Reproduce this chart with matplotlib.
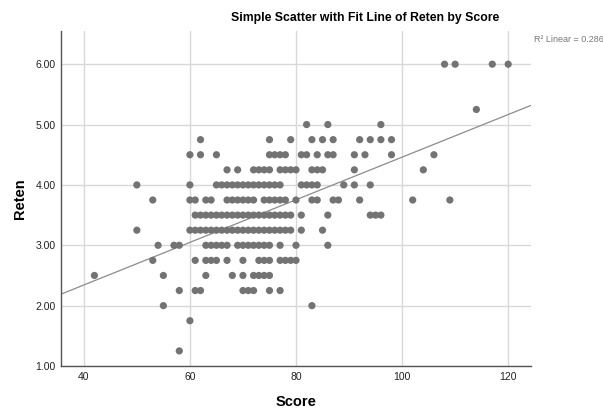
import numpy as np
import matplotlib
matplotlib.use('Agg')
import matplotlib.pyplot as plt

plt.rcParams['font.family'] = ['Liberation Sans', 'DejaVu Sans']

# scores seen on each Reten row of the reference
rows = {
    6.00: [108, 110, 117, 120],
    5.25: [114],
    5.00: [82, 86, 96],
    4.75: [62, 75, 79, 83, 85, 87, 92, 94, 96, 98],
    4.50: [60, 62, 65, 75, 76, 77, 78, 81, 82, 84, 86, 87, 91, 93, 98, 106],
    4.25: [67, 69, 72, 73, 74, 75, 77, 78, 79, 80, 83, 84, 85, 91, 104],
    4.00: [50, 60] + list(range(65, 78)) + [81, 82, 83, 84, 89, 91, 94],
    3.75: [53, 60, 61, 63, 64, 67, 68, 69, 70, 71, 72, 74, 75, 76, 77, 78,
           80, 83, 84, 87, 88, 92, 102, 109],
    3.50: list(range(61, 80)) + [81, 86, 94, 95, 96],
    3.25: [50] + list(range(60, 80)) + [81, 85],
    3.00: [54, 57, 58, 63, 64, 65, 66, 67, 69, 70, 71, 72, 73, 74, 75, 77, 80, 86],
    2.75: [53, 61, 63, 64, 65, 67, 70, 73, 74, 75, 77, 78, 79, 80],
    2.50: [42, 55, 63, 68, 70, 72, 73, 74, 75],
    2.25: [58, 61, 62, 70, 71, 72, 75, 77],
    2.00: [55, 83],
    1.75: [60],
    1.25: [58],
}
score = np.array([s for r in rows for s in rows[r]], dtype=float)
reten = np.array([r for r in rows for s in rows[r]], dtype=float)

# fit line
fit_intercept = 0.93
fit_slope = 0.0353
r2_text = 'R\u00b2 Linear = 0.286'

xticks = [40, 60, 80, 100, 120]
yticks = [1, 2, 3, 4, 5, 6]

fig = plt.figure(figsize=(6.03, 4.09), dpi=100)
ax = fig.add_axes([61 / 603, 1 - 366 / 409, 470 / 603, 335 / 409])

ax.set_xlim(35.7, 124.3)
ax.set_ylim(1.0, 6.55)
ax.set_xticks(xticks)
ax.set_yticks(yticks)
ax.set_yticklabels(['%.2f' % v for v in yticks])
ax.grid(True, color='#d8d8d8', linewidth=1.0)
ax.set_axisbelow(True)
ax.tick_params(length=0, labelsize=7.5, colors='#222222', pad=4)

for side in ['top', 'right']:
    ax.spines[side].set_visible(False)
for side in ['left', 'bottom']:
    ax.spines[side].set_color('#555555')
    ax.spines[side].set_linewidth(1.0)

xs = np.array(ax.get_xlim())
ax.plot(xs, fit_intercept + fit_slope * xs, color='#8c8c8c', linewidth=0.9, zorder=2)
ax.scatter(score, reten, s=27, color='#737373', edgecolors='none', zorder=3)

ax.set_xlabel('Score', fontsize=10.5, fontweight='bold')
ax.set_ylabel('Reten', fontsize=10.5, fontweight='bold')
ax.xaxis.set_label_coords(0.5, (366 - 395) / 335)
ax.yaxis.set_label_coords((27 - 61) / 470, 0.5)

fig.text(365 / 603, 1 - 18 / 409, 'Simple Scatter with Fit Line of Reten by Score',
         ha='center', va='center', fontsize=8.8, fontweight='bold')
fig.text(534 / 603, 1 - 39 / 409, r2_text, ha='left', va='center',
         fontsize=6.5, color='#777777')

fig.savefig('out.png', dpi=100)
